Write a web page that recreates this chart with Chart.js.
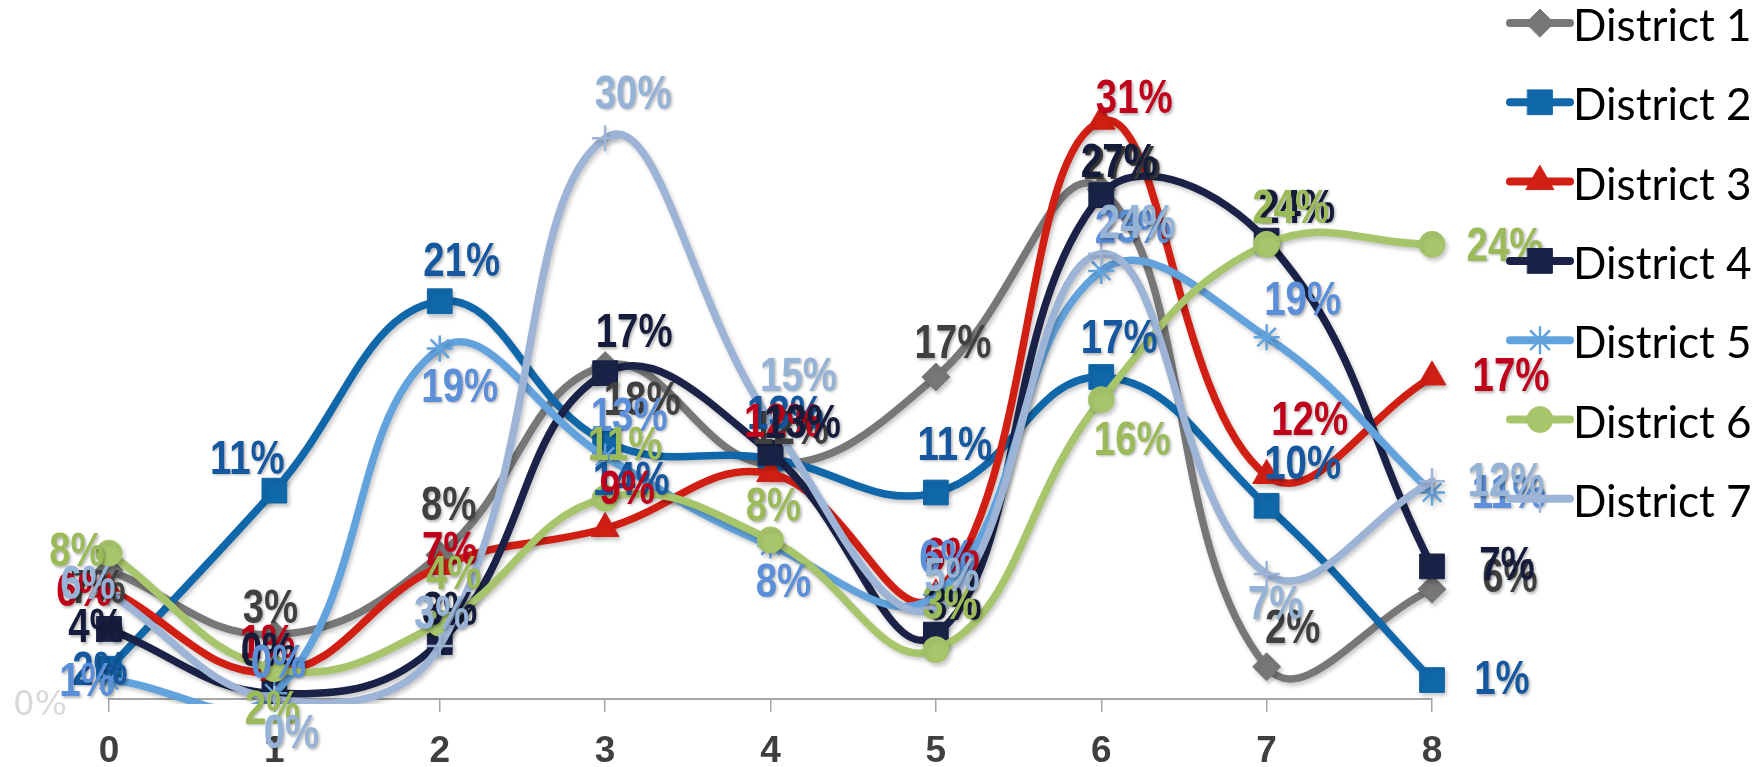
<!DOCTYPE html>
<html>
<head>
<meta charset="utf-8">
<script src="https://cdn.jsdelivr.net/npm/chart.js@4.4.1/dist/chart.umd.min.js"></script>
<style>
html,body{margin:0;padding:0;background:#ffffff;overflow:hidden}
canvas{display:block}
</style>
</head>
<body>
<canvas id="c" width="1763" height="767"></canvas>
<script>
// ---------- data ----------
const categories = ['0', '1', '2', '3', '4', '5', '6', '7', '8'];
const seriesNames = ['District 1', 'District 2', 'District 3', 'District 4', 'District 5', 'District 6', 'District 7'];
const district1 = [6.8, 3.4, 7.6, 17.6, 12.4, 17.0, 26.9, 1.7, 5.8];
const district2 = [1.6, 11.0, 21.0, 13.6, 12.7, 10.9, 17.0, 10.2, 1.0];
const district3 = [5.8, 1.4, 7.0, 9.0, 11.9, 5.5, 30.5, 11.8, 17.0];
const district4 = [3.7, 0.3, 3.0, 17.2, 13.0, 3.4, 26.6, 24.2, 7.0];
const district5 = [1.0, 0.3, 18.5, 12.8, 8.1, 5.5, 22.6, 19.1, 10.9];
const district6 = [7.7, 1.6, 4.0, 10.6, 8.4, 2.6, 15.8, 24.0, 24.0];
const district7 = [5.6, 0.0, 2.8, 29.6, 14.7, 4.8, 23.5, 6.6, 11.5];
const seriesValues = [district1, district2, district3, district4, district5, district6, district7];
const yTickLabels = ['0%'];

// ---------- styles ----------
const lineColors  = ['#777777', '#1068AA', '#D21F14', '#1A2347', '#62A3DE', '#A7C56B', '#9DB4D7'];
const labelColors = ['#404040', '#1558A0', '#C0001A', '#151B3A', '#5B8FD9', '#9BBB59', '#95B3D7'];
const markerStyles = ['rectRot', 'rect', 'triangle', 'rect', 'star', 'circle', 'cross'];
const markerRadii  = [14, 17.5, 16, 17.5, 13, 13, 13];
// label offsets (px) relative to each point
const labelOffsets = [
  [[-11, 20], [-4, -25], [9, -48], [37, 36], [20, -33], [17, -32], [21, -24], [26, -37], [78, -10]],
  [[-9, 3], [-27, -30], [22, -38], [26, 40], [15, -43], [19, -46], [18, -37], [36, -40], [70, 1]],
  [[-25, 4], [-7, -28], [10, -15], [22, -38], [12, -50], [16, -37], [33, -21], [43, -54], [79, 1]],
  [[-13, 0], [-6, -41], [10, -30], [29, -39], [32, -28], [18, -28], [18, -31], [30, -31], [75, 0]],
  [[-22, 3], [4, -29], [20, 40], [24, -39], [13, 38], [11, -35], [32, -41], [36, -35], [77, 2]],
  [[-32, 0], [-2, 42], [14, -47], [20, -51], [3, -32], [14, -44], [31, 42], [24, -35], [73, 3]],
  [[-21, -7], [17, 36], [2, -30], [28, -43], [28, -43], [16, -30], [36, -29], [9, 32], [74, 2]]
];

const datasets = seriesValues.map((vals, i) => ({
  label: seriesNames[i],
  data: vals,
  borderColor: lineColors[i],
  backgroundColor: lineColors[i],
  borderWidth: 7.5,
  tension: 0.42,
  borderCapStyle: 'round',
  borderJoinStyle: 'round',
  pointStyle: markerStyles[i],
  pointRadius: markerRadii[i],
  pointHoverRadius: markerRadii[i],
  pointBackgroundColor: lineColors[i],
  pointBorderColor: lineColors[i],
  pointBorderWidth: (markerStyles[i] === 'star' || markerStyles[i] === 'cross') ? 2.5 : 1,
  order: seriesValues.length - i,
  clip: {left: false, top: false, right: false, bottom: 5}
}));

const shadowPlugin = {
  id: 'lineShadow',
  beforeDatasetDraw(chart) {
    const ctx = chart.ctx;
    ctx.save();
    ctx.shadowColor = 'rgba(0,0,0,0.22)';
    ctx.shadowBlur = 4;
    ctx.shadowOffsetX = 2;
    ctx.shadowOffsetY = 3;
  },
  afterDatasetDraw(chart) {
    chart.ctx.restore();
  }
};

const labelPlugin = {
  id: 'valueLabels',
  afterDatasetsDraw(chart) {
    const ctx = chart.ctx;
    seriesValues.forEach((vals, i) => {
      const meta = chart.getDatasetMeta(i);
      meta.data.forEach((pt, j) => {
        const off = labelOffsets[i][j];
        const txt = Math.round(vals[j]) + '%';
        ctx.save();
        ctx.translate(pt.x + off[0], pt.y + off[1]);
        ctx.scale(0.8, 1);
        ctx.font = "bold 48px 'Liberation Sans', Arial, sans-serif";
        ctx.textAlign = 'center';
        ctx.textBaseline = 'middle';
        ctx.shadowColor = 'rgba(0,0,0,0.3)';
        ctx.shadowBlur = 3;
        ctx.shadowOffsetX = 1.5;
        ctx.shadowOffsetY = 1.5;
        ctx.fillStyle = labelColors[i];
        ctx.fillText(txt, 0, 0);
        ctx.restore();
      });
    });
  }
};

const legendPlugin = {
  id: 'sideLegend',
  afterDraw(chart) {
    const ctx = chart.ctx;
    const x0 = chart.chartArea.right + 78;
    const y0 = 23;
    const gap = 79.3;
    seriesNames.forEach((name, i) => {
      const y = y0 + i * gap;
      ctx.save();
      ctx.strokeStyle = lineColors[i];
      ctx.lineWidth = 8;
      ctx.lineCap = 'round';
      ctx.beginPath();
      ctx.moveTo(x0, y);
      ctx.lineTo(x0 + 60, y);
      ctx.stroke();
      ctx.fillStyle = lineColors[i];
      ctx.strokeStyle = lineColors[i];
      const isStroke = markerStyles[i] === 'star' || markerStyles[i] === 'cross';
      ctx.lineWidth = isStroke ? 2.5 : 1;
      Chart.helpers.drawPoint(ctx, {
        pointStyle: markerStyles[i],
        radius: markerRadii[i],
        rotation: 0,
        borderWidth: ctx.lineWidth
      }, x0 + 30, y);
      ctx.fillStyle = '#000000';
      ctx.font = "44px Lato, 'Open Sans', sans-serif";
      ctx.textAlign = 'left';
      ctx.textBaseline = 'middle';
      ctx.fillText(name, x0 + 63, y + 4);
      ctx.restore();
    });
  }
};

new Chart(document.getElementById('c'), {
  type: 'line',
  data: {labels: categories, datasets: datasets},
  options: {
    responsive: false,
    animation: false,
    devicePixelRatio: 1,
    events: [],
    layout: {padding: {left: 0, top: 36, right: 331, bottom: 0}},
    elements: {line: {capBezierPoints: false}},
    plugins: {legend: {display: false}, tooltip: {enabled: false}},
    scales: {
      x: {
        type: 'category',
        offset: false,
        grid: {display: true, drawOnChartArea: false, drawTicks: true, tickLength: 13, color: '#A6A6A6', lineWidth: 1.5},
        border: {display: true, color: '#A6A6A6', width: 2},
        ticks: {
          color: '#3F3F3F',
          font: {family: "'Liberation Sans', Arial, sans-serif", size: 37, weight: 'bold'},
          padding: 18, maxRotation: 0, autoSkip: false
        },
        afterFit(s) { s.height = 68; s.paddingLeft = 0; s.paddingRight = 0; }
      },
      y: {
        min: 0, max: 35,
        grid: {display: false, drawTicks: false},
        border: {display: false},
        ticks: {
          stepSize: 35,
          callback: (v) => (v === 0 ? yTickLabels[0] : ''),
          color: '#D9D9D9',
          font: {family: "'DejaVu Sans', sans-serif", size: 34},
          padding: 42,
          labelOffset: 7
        },
        afterFit(s) { s.width = 109; s.paddingTop = 0; s.paddingBottom = 0; }
      }
    }
  },
  plugins: [shadowPlugin, labelPlugin, legendPlugin]
});
</script>
</body>
</html>
